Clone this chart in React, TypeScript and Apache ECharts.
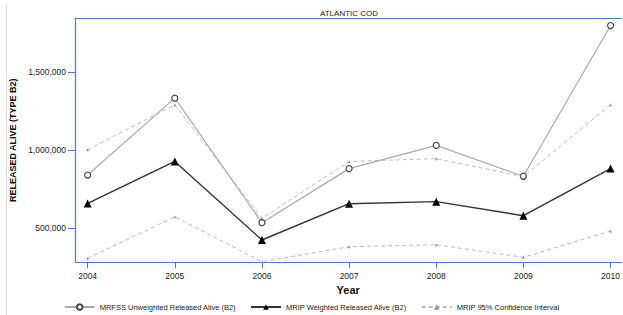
import React, { useEffect, useRef } from "react";
import * as echarts from "echarts";

const years = [2004, 2005, 2006, 2007, 2008, 2009, 2010];
const mrfssUnweighted = [842000, 1335000, 536000, 883000, 1032000, 834000, 1801000];
const mripWeighted = [660000, 929000, 425000, 658000, 671000, 581000, 883000];
const ciUpper = [1004000, 1293000, 564000, 929000, 947000, 832000, 1293000];
const ciLower = [308000, 574000, 286000, 382000, 395000, 314000, 483000];
const yTicks = [500000, 1000000, 1500000];

const seriesNames = [
  "MRFSS Unweighted Released Alive (B2)",
  "MRIP Weighted Released Alive (B2)",
  "MRIP 95% Confidence Interval",
];

const pairs = (vals: number[]) => years.map((y, i) => [y, vals[i]]);
const fmt = (v: number) => v.toLocaleString("en-US");

const FRAME = "#4f78c8";
const FONT = "Liberation Sans, Arial, sans-serif";

export default function App() {
  const ref = useRef<HTMLDivElement>(null);
  useEffect(() => {
    if (!ref.current) return;
    const chart = echarts.init(ref.current, undefined, { renderer: "svg" });
    const ciStyle = {
      type: "line" as const,
      name: seriesNames[2],
      symbol: "triangle",
      symbolSize: 3,
      itemStyle: { color: "#999" },
      lineStyle: { color: "#bbb", width: 1, type: [4, 3] as any },
      z: 1,
    };
    chart.setOption({
      animation: false,
      textStyle: { fontFamily: FONT },
      title: {
        text: "ATLANTIC COD",
        left: 349,
        top: 9,
        padding: 0,
        textAlign: "center",
        textStyle: { fontSize: 8, fontWeight: "normal", color: "#222", fontFamily: FONT },
      },
      grid: { left: 75, right: 0, top: 18.5, bottom: 53, containLabel: false },
      legend: {
        bottom: 4,
        left: "center",
        padding: 0,
        itemWidth: 30,
        itemHeight: 7,
        itemGap: 14,
        data: seriesNames,
        textStyle: { fontSize: 7.5, color: "#222", fontFamily: FONT },
      },
      xAxis: [
        {
          type: "value",
          min: 2003.855,
          max: 2010.125,
          name: "Year",
          nameLocation: "middle",
          nameGap: 22,
          nameTextStyle: { fontSize: 11, fontWeight: "bold", color: "#111" },
          axisLine: { show: true, lineStyle: { color: FRAME, width: 1.2 } },
          axisTick: { show: true, length: 6, customValues: years, lineStyle: { color: FRAME } },
          axisLabel: { customValues: years, fontSize: 8.5, color: "#222", margin: 9, formatter: (v: number) => String(v) },
          splitLine: { show: false },
        },
        {
          type: "value",
          position: "top",
          min: 0,
          max: 1,
          axisLine: { show: true, lineStyle: { color: FRAME, width: 1.2 } },
          axisTick: { show: false },
          axisLabel: { show: false },
          splitLine: { show: false },
        },
      ],
      yAxis: {
        type: "value",
        min: 284000,
        max: 1846000,
        name: "RELEASED ALIVE (TYPE B2)",
        nameLocation: "middle",
        nameGap: 50,
        nameTextStyle: { fontSize: 9, fontWeight: "bold", color: "#111" },
        axisLine: { show: true, lineStyle: { color: FRAME, width: 1.2 } },
        axisTick: { show: true, length: 7, customValues: yTicks, lineStyle: { color: FRAME } },
        axisLabel: { customValues: yTicks, fontSize: 8.5, color: "#222", margin: 9, formatter: (v: number) => fmt(v) },
        splitLine: { show: false },
      },
      graphic: [
        {
          type: "line",
          shape: { x1: 6.5, y1: 4, x2: 6.5, y2: 315 },
          style: { stroke: "#d8d8d8", lineWidth: 1 },
        },
      ],
      series: [
        { ...ciStyle, data: pairs(ciUpper) },
        { ...ciStyle, data: pairs(ciLower) },
        {
          type: "line",
          name: seriesNames[0],
          data: pairs(mrfssUnweighted),
          symbol: "circle",
          symbolSize: 6,
          itemStyle: { color: "#fff", borderColor: "#444", borderWidth: 1.2 },
          lineStyle: { color: "#aaa", width: 1.2 },
          z: 2,
        },
        {
          type: "line",
          name: seriesNames[1],
          data: pairs(mripWeighted),
          symbol: "triangle",
          symbolSize: 8,
          itemStyle: { color: "#000" },
          lineStyle: { color: "#333", width: 1.4 },
          z: 3,
        },
      ],
    });
    return () => chart.dispose();
  }, []);
  return (
    <div
      ref={ref}
      style={{ position: "absolute", left: 0, top: 0, width: 623, height: 315 }}
    />
  );
}
